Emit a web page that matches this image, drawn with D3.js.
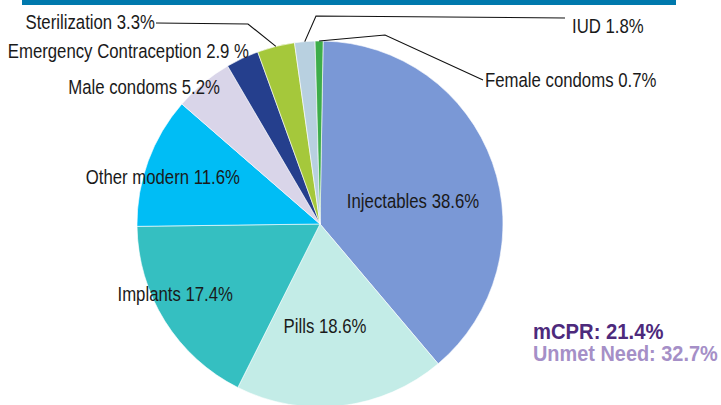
<!DOCTYPE html>
<html>
<head>
<meta charset="utf-8">
<script src="https://cdn.jsdelivr.net/npm/d3@7"></script>
<style>
body{margin:0;background:#fff;}
svg text{font-family:"Liberation Sans",Arial,sans-serif;}
</style>
</head>
<body>
<svg width="721" height="405"></svg>
<script>
"use strict";

// data
var methods=["Injectables","Pills","Implants","Other modern","Male condoms","Emergency Contraception","Sterilization","IUD","Female condoms"];
var shares=[38.6,18.6,17.4,11.6,5.2,2.9,3.3,1.8,0.7];
var labels=["Injectables 38.6%","Pills 18.6%","Implants 17.4%","Other modern 11.6%","Male condoms 5.2%","Emergency Contraception 2.9 %","Sterilization 3.3%","IUD 1.8%","Female condoms 0.7%"];
var mcpr="mCPR: 21.4%";
var unmet="Unmet Need: 32.7%";

var colors=["#7a98d6","#c3ece7","#35bfc1","#00bdf5","#d9d5e9","#253f8d","#a5c83b","#b8d0e0","#3dad4a"];

// where each label sits (anchor, x, baseline) and optional leader elbow / end
var labelLayout={
	"Injectables":{anchor:"middle",x:413,y:208},
	"Pills":{anchor:"middle",x:325,y:333},
	"Implants":{anchor:"end",x:233,y:301},
	"Other modern":{anchor:"end",x:240,y:184},
	"Male condoms":{anchor:"end",x:220,y:94},
	"Emergency Contraception":{anchor:"end",x:249,y:58},
	"Sterilization":{anchor:"end",x:155,y:29,elbow:[248,24],end:[156,23]},
	"IUD":{anchor:"start",x:572,y:33,elbow:[316,16],end:[565,18]},
	"Female condoms":{anchor:"start",x:485,y:87,elbow:[385,35],end:[483,80]}
};

// the source uses a condensed face; squeeze a regular one horizontally
var squeeze=0.86;

var svg=d3.select("svg");
var cx=320, cy=224, radius=183;

svg.append("rect")
	.attr("x",22).attr("y",0)
	.attr("width",654).attr("height",5)
	.attr("fill","#0079ad");

var pie=d3.pie()
	.sort(null)
	.value(function(d){return d;})
	.startAngle(0.017)
	.endAngle(0.017+2*Math.PI);

var arcs=pie(shares);

var arc=d3.arc().innerRadius(0).outerRadius(radius);
var edgeArc=d3.arc().innerRadius(radius).outerRadius(radius);

var g=svg.append("g").attr("transform","translate("+cx+","+cy+")");

g.selectAll("path.slice")
	.data(arcs)
	.enter()
	.append("path")
	.attr("class","slice")
	.attr("d",arc)
	.attr("fill",function(d,i){return colors[i];})
	.attr("stroke","#fff")
	.attr("stroke-width",0.6);

// leader lines for the thin slices
arcs.forEach(function(d,i){
	var lay=labelLayout[methods[i]];
	if(!lay.elbow) return;
	var p=edgeArc.centroid(d);
	var pts=[[p[0]+cx,p[1]+cy],lay.elbow,lay.end];
	svg.append("path")
		.attr("d",d3.line()(pts))
		.attr("fill","none")
		.attr("stroke","#111")
		.attr("stroke-width",1.1);
});

svg.selectAll("text.lbl")
	.data(methods)
	.enter()
	.append("text")
	.attr("class","lbl")
	.attr("transform",function(d){
		var l=labelLayout[d];
		return "translate("+l.x+","+l.y+") scale("+squeeze+",1)";
	})
	.attr("text-anchor",function(d){return labelLayout[d].anchor;})
	.attr("font-size",19.5)
	.attr("fill","#1a1a1a")
	.text(function(d,i){return labels[i];});

svg.append("text")
	.attr("transform","translate(533,339) scale(0.92,1)")
	.attr("font-size",22)
	.attr("font-weight","bold")
	.attr("fill","#4d2a7c")
	.text(mcpr);

svg.append("text")
	.attr("transform","translate(533,361) scale(0.905,1)")
	.attr("font-size",22)
	.attr("font-weight","bold")
	.attr("fill","#a58fc7")
	.text(unmet);
</script>
</body>
</html>
